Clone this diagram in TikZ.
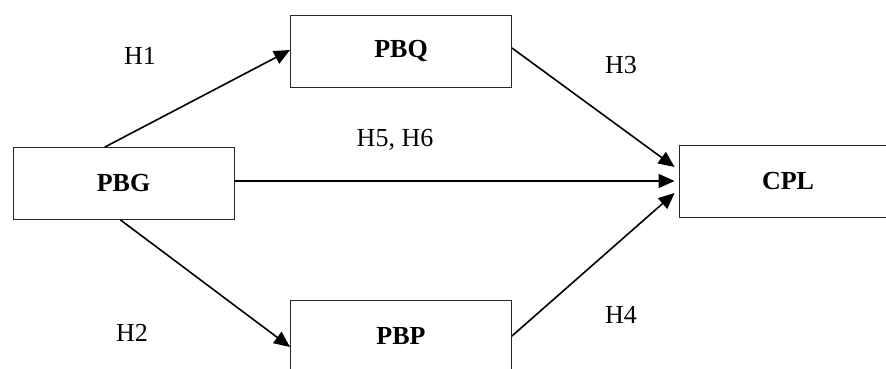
\documentclass[tikz,border=0pt]{standalone}
\usepackage{fontspec}
\setmainfont{Liberation Serif}
\usetikzlibrary{arrows.meta,calc}
\tikzset{
  varbox/.style={draw=black!85, line width=0.9pt, rectangle, inner sep=0pt,
    minimum width=221pt, minimum height=72pt, font=\fontsize{26}{30}\selectfont\bfseries},
  path/.style={line width=1.6pt, -{Triangle[length=16pt,width=14pt]}},
  hyp/.style={font=\fontsize{26}{30}\selectfont}
}
\begin{document}
\begin{tikzpicture}[x=1pt,y=-1pt]
\useasboundingbox (0,0) rectangle (886,368);
% constructs
\node[varbox] (pbg) at (123.5,183.5) {PBG};
\node[varbox] (pbq) at (401,51) {PBQ};
\node[varbox] (pbp) at (401,336) {PBP};
\node[varbox, minimum width=218pt] (cpl) at (788,181) {CPL};
% hypothesis labels
\node[hyp] (h1) at (140,56) {H1};
\node[hyp] (h2) at (132,333) {H2};
\node[hyp] (h3) at (621,65) {H3};
\node[hyp] (h4) at (621,315) {H4};
\node[hyp] (h56) at (395,140) {H5, H6};
% paths (offsets in picture units, y pointing down)
\draw[path] ($(pbg.north west)!0.416!(pbg.north east)$) -- ($(pbq.west)+(0,-1)$);
\draw[path] ($(pbg.south)+(-3,0)$) -- ($(pbp.west)+(0,11)$);
\draw[path] (pbg.east |- cpl.west) -- ($(cpl.west)+(-4,0)$);
\draw[path] ($(pbq.east)+(0,-3)$) -- ($(cpl.west)+(-4,-14)$);
\draw[path] (pbp.east) -- ($(cpl.west)+(-4,12)$);
\end{tikzpicture}
\end{document}
